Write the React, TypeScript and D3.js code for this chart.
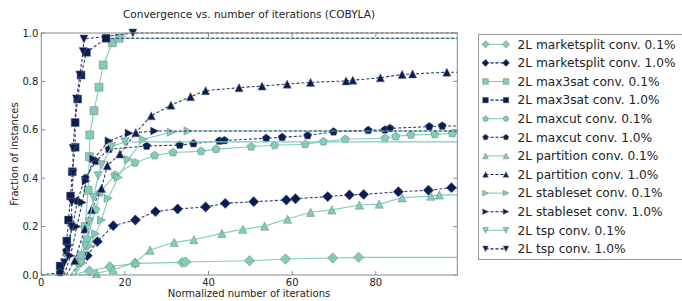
import { useRef, useEffect } from "react";
import * as d3 from "d3";

type Pt = [number, number];

// values (normalized iterations, fraction of instances)
const marketsplit01: Pt[] = [[7,0],[11.5,0.017],[16.4,0.034],[22.4,0.048],[33.7,0.052],[34.5,0.054],[49.8,0.059],[58.4,0.066],[69.7,0.07],[75.9,0.073]];
const marketsplit10: Pt[] = [[7,0],[11,0.08],[13.4,0.138],[17.2,0.204],[22.5,0.227],[27.3,0.262],[32.6,0.273],[39.3,0.281],[44.0,0.296],[50.8,0.303],[58.6,0.31],[60.8,0.315],[68.5,0.324],[73.7,0.331],[77.1,0.333],[85.4,0.344],[92.6,0.35],[98.1,0.361]];
const max3sat01: Pt[] = [[8,0],[9.5,0.08],[10.5,0.2],[11.2,0.35],[11.5,0.489],[11.6,0.579],[12.6,0.679],[13.8,0.776],[14.8,0.868],[17,0.96],[18.6,0.978]];
const max3sat10: Pt[] = [[3.5,0],[4.5,0.037],[6.1,0.14],[6.5,0.227],[7.0,0.326],[7.4,0.427],[8.1,0.528],[8.1,0.63],[8.7,0.727],[9.5,0.826],[10.8,0.92],[15.5,0.978]];
const maxcut01: Pt[] = [[7,0],[9,0.05],[11,0.15],[13,0.27],[14,0.34],[17.6,0.413],[22.4,0.464],[27.1,0.494],[31.5,0.506],[38.2,0.511],[41.8,0.52],[50.2,0.53],[55.8,0.536],[63.1,0.54],[67.5,0.551],[72.7,0.561],[82.2,0.565],[84.8,0.572],[88.4,0.579],[94.1,0.581],[98.3,0.585]];
const maxcut10: Pt[] = [[0,0],[4.5,0.01],[6,0.1],[7.5,0.2],[8.6,0.306],[10.5,0.4],[13,0.47],[16.2,0.52],[25.2,0.533],[33.1,0.537],[36.4,0.543],[42.6,0.554],[43.8,0.556],[53.8,0.565],[57.6,0.569],[63.7,0.576],[69.9,0.592],[78.2,0.598],[82.2,0.6],[83.4,0.606],[92.8,0.613],[95.9,0.616]];
const partition01: Pt[] = [[9,0],[13.2,0.007],[17.2,0.022],[22.5,0.052],[26.0,0.103],[31.8,0.135],[36.5,0.146],[43.2,0.172],[48.2,0.189],[53.4,0.202],[58.9,0.231],[64.4,0.259],[69.5,0.269],[76.1,0.289],[80.8,0.293],[86.3,0.319],[93.2,0.326],[95.2,0.331]];
const partition10: Pt[] = [[6,0],[8,0.06],[10.4,0.19],[12,0.27],[14.4,0.358],[15.8,0.452],[18.8,0.5],[22.6,0.588],[26.3,0.658],[31,0.702],[35.7,0.737],[39.3,0.762],[47.3,0.774],[52.8,0.781],[58.8,0.789],[64.4,0.796],[72.9,0.802],[74.5,0.805],[81.1,0.815],[86.3,0.829],[88.8,0.831],[97,0.838]];
const stableset01: Pt[] = [[8,0],[10,0.05],[11.5,0.12],[13,0.17],[14.4,0.227],[16,0.317],[18.4,0.403],[20.8,0.478],[24.4,0.561],[31.1,0.59],[35.1,0.595]];
const stableset10: Pt[] = [[5.5,0],[7,0.08],[8.5,0.2],[9.8,0.3],[10.7,0.388],[12.5,0.48],[16.2,0.554],[21,0.586],[27.1,0.595]];
const tsp01: Pt[] = [[8,0],[9.5,0.05],[10.5,0.12],[11.5,0.22],[12.5,0.32],[13.6,0.41],[14.4,0.455],[16.8,0.53],[20,0.55]];
const tsp10: Pt[] = [[4.5,0],[5.5,0.05],[6.4,0.11],[7.2,0.2],[7.3,0.3],[7.6,0.42],[7.6,0.523],[8.4,0.727],[9.2,0.826],[10.0,0.923],[10.2,0.975],[21.9,1.0]];

const X_TICKS = [0, 20, 40, 60, 80];
const Y_TICKS = [0, 0.2, 0.4, 0.6, 0.8, 1.0];
const X_MAX = 99.5;

const TEAL = "#7fcdbb";
const NAVY = "#081d58";

type Kind = "diamond" | "square" | "pentagon" | "triUp" | "triRight" | "triDown";

const SERIES: { label: string; data: Pt[]; kind: Kind; fine: boolean }[] = [
  { label: "2L marketsplit conv. 0.1%", data: marketsplit01, kind: "diamond", fine: true },
  { label: "2L marketsplit conv. 1.0%", data: marketsplit10, kind: "diamond", fine: false },
  { label: "2L max3sat conv. 0.1%", data: max3sat01, kind: "square", fine: true },
  { label: "2L max3sat conv. 1.0%", data: max3sat10, kind: "square", fine: false },
  { label: "2L maxcut conv. 0.1%", data: maxcut01, kind: "pentagon", fine: true },
  { label: "2L maxcut conv. 1.0%", data: maxcut10, kind: "pentagon", fine: false },
  { label: "2L partition conv. 0.1%", data: partition01, kind: "triUp", fine: true },
  { label: "2L partition conv. 1.0%", data: partition10, kind: "triUp", fine: false },
  { label: "2L stableset conv. 0.1%", data: stableset01, kind: "triRight", fine: true },
  { label: "2L stableset conv. 1.0%", data: stableset10, kind: "triRight", fine: false },
  { label: "2L tsp conv. 0.1%", data: tsp01, kind: "triDown", fine: true },
  { label: "2L tsp conv. 1.0%", data: tsp10, kind: "triDown", fine: false },
];

const SIZE: Record<Kind, number> = {
  diamond: 5.2, square: 4, pentagon: 3.9, triUp: 4.1, triRight: 4.1, triDown: 4.1,
};

function markerPath(kind: Kind, s: number): string {
  switch (kind) {
    case "square": return `M${-s},${-s}H${s}V${s}H${-s}Z`;
    case "diamond": return `M0,${-s}L${s},0L0,${s}L${-s},0Z`;
    case "triUp": return `M0,${-s}L${s},${s}L${-s},${s}Z`;
    case "triDown": return `M0,${s}L${s},${-s}L${-s},${-s}Z`;
    case "triRight": return `M${s},0L${-s},${-s}L${-s},${s}Z`;
    case "pentagon": {
      const pts = d3.range(5).map((k) => {
        const a = (-90 + 72 * k) * Math.PI / 180;
        return `${(s * 1.1 * Math.cos(a)).toFixed(2)},${(s * 1.1 * Math.sin(a)).toFixed(2)}`;
      });
      return `M${pts.join("L")}Z`;
    }
  }
}

export default function App() {
  const svgRef = useRef<SVGSVGElement>(null);

  useEffect(() => {
    if (!svgRef.current) return;
    const svg = d3.select(svgRef.current);
    svg.selectAll("*").remove();

    const left = 41.3, right = 457.3, top = 33, bottom = 275;
    const x = d3.scaleLinear().domain([0, X_MAX]).range([left, right]);
    const y = d3.scaleLinear().domain([0, 1]).range([bottom, top]);

    const font = "DejaVu Sans, sans-serif";

    svg.append("rect").attr("width", 682).attr("height", 301).attr("fill", "#fff");

    // ── Title / labels ─────────────────────────────────────────────
    svg.append("text")
      .attr("x", 249).attr("y", 18)
      .attr("text-anchor", "middle")
      .attr("font-size", 10.5).attr("font-family", font)
      .attr("fill", "#222")
      .text("Convergence vs. number of iterations (COBYLA)");

    svg.append("text")
      .attr("x", 249).attr("y", 297)
      .attr("text-anchor", "middle")
      .attr("font-size", 10).attr("font-family", font)
      .attr("fill", "#222")
      .text("Normalized number of iterations");

    svg.append("text")
      .attr("transform", `translate(18,${(top + bottom) / 2}) rotate(-90)`)
      .attr("text-anchor", "middle")
      .attr("font-size", 10).attr("font-family", font)
      .attr("fill", "#222")
      .text("Fraction of instances");

    // ── Series ─────────────────────────────────────────────────────
    const clip = svg.append("clipPath").attr("id", "plotclip");
    clip.append("rect").attr("x", left).attr("y", top - 6).attr("width", right - left).attr("height", bottom - top + 12);

    const plot = svg.append("g").attr("clip-path", "url(#plotclip)");
    const line = d3.line<Pt>().x((d) => x(d[0])).y((d) => y(d[1]));

    SERIES.forEach((s) => {
      const last = s.data[s.data.length - 1];
      const pts: Pt[] = [...s.data, [X_MAX, last[1]]];
      const color = s.fine ? TEAL : NAVY;
      plot.append("path")
        .attr("d", line(pts))
        .attr("fill", "none")
        .attr("stroke", color)
        .attr("stroke-width", 1.1)
        .attr("stroke-dasharray", s.fine ? null : "3,2")
        .attr("opacity", s.fine ? 1 : 0.85);

      plot.selectAll(null)
        .data(s.data.slice(1))
        .join("path")
        .attr("transform", (d) => `translate(${x(d[0])},${y(d[1])})`)
        .attr("d", markerPath(s.kind, SIZE[s.kind]))
        .attr("fill", color)
        .attr("stroke", "#777")
        .attr("stroke-width", 0.5);
    });

    // ── Frame + ticks ──────────────────────────────────────────────
    const axisColor = "#8a8a8a";
    svg.append("rect")
      .attr("x", left).attr("y", top)
      .attr("width", right - left).attr("height", bottom - top)
      .attr("fill", "none").attr("stroke", axisColor).attr("stroke-width", 1);

    X_TICKS.forEach((t) => {
      svg.append("line").attr("x1", x(t)).attr("x2", x(t)).attr("y1", bottom).attr("y2", bottom - 4).attr("stroke", axisColor);
      svg.append("line").attr("x1", x(t)).attr("x2", x(t)).attr("y1", top).attr("y2", top + 4).attr("stroke", axisColor);
      svg.append("text")
        .attr("x", x(t)).attr("y", 286)
        .attr("text-anchor", "middle")
        .attr("font-size", 10).attr("font-family", font).attr("fill", "#222")
        .text(String(t));
    });

    Y_TICKS.forEach((t) => {
      svg.append("line").attr("x1", left).attr("x2", left + 4).attr("y1", y(t)).attr("y2", y(t)).attr("stroke", axisColor);
      svg.append("line").attr("x1", right).attr("x2", right - 4).attr("y1", y(t)).attr("y2", y(t)).attr("stroke", axisColor);
      svg.append("text")
        .attr("x", left - 3).attr("y", y(t)).attr("dy", "0.35em")
        .attr("text-anchor", "end")
        .attr("font-size", 10).attr("font-family", font).attr("fill", "#222")
        .text(t.toFixed(1));
    });

    // ── Legend ─────────────────────────────────────────────────────
    const lg = svg.append("g");
    lg.append("rect")
      .attr("x", 478.5).attr("y", 34.5)
      .attr("width", 220).attr("height", 225)
      .attr("fill", "#fff").attr("stroke", "#999").attr("stroke-width", 1);

    SERIES.forEach((s, i) => {
      const cy = 44.3 + i * 18.6;
      const color = s.fine ? TEAL : NAVY;
      lg.append("line")
        .attr("x1", 485.5).attr("x2", 506)
        .attr("y1", cy).attr("y2", cy)
        .attr("stroke", color).attr("stroke-width", 1.1)
        .attr("stroke-dasharray", s.fine ? null : "3,2");
      [485.5, 506].forEach((mx) => {
        lg.append("path")
          .attr("transform", `translate(${mx},${cy})`)
          .attr("d", markerPath(s.kind, SIZE[s.kind] * 0.7))
          .attr("fill", color).attr("stroke", "#777").attr("stroke-width", 0.5);
      });
      lg.append("text")
        .attr("x", 517.5).attr("y", cy).attr("dy", "0.36em")
        .attr("font-size", 12.2).attr("font-family", font).attr("fill", "#222")
        .text(s.label);
    });
  }, []);

  return (
    <svg
      ref={svgRef}
      width={682}
      height={301}
      style={{ position: "absolute", left: 0, top: 0, display: "block" }}
    />
  );
}
